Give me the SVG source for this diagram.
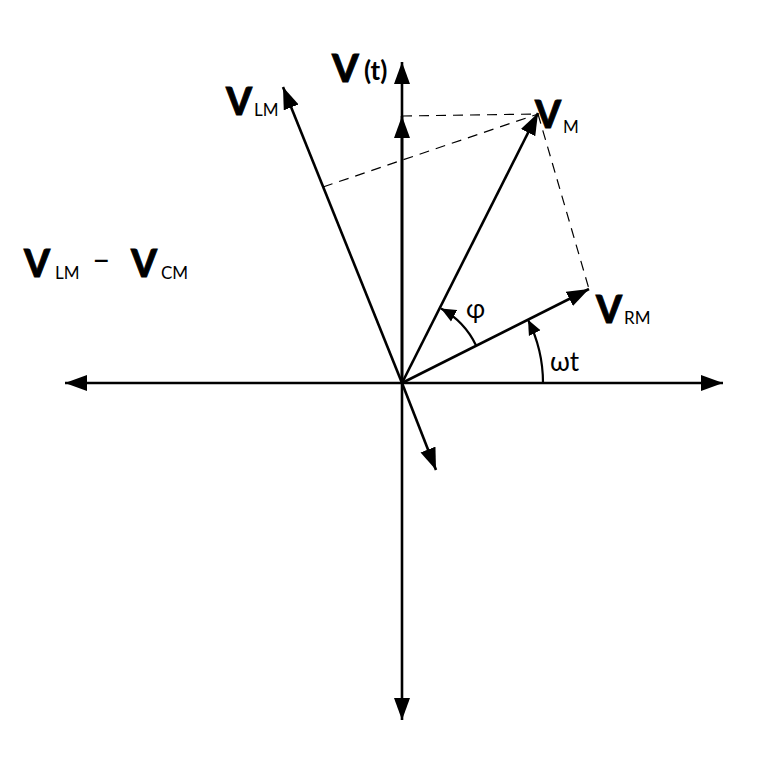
<svg xmlns="http://www.w3.org/2000/svg" width="768" height="768" viewBox="0 0 768 768">
<style>
.ax{stroke:#000;stroke-width:2.6;fill:none}
.dash{stroke:#000;stroke-width:1.2;fill:none;stroke-dasharray:10 7}
.arc{stroke:#000;stroke-width:2.2;fill:none}
.big{font-family:Lato,"Noto Sans",sans-serif;font-weight:900;fill:#000;stroke:#000;stroke-width:0.8}
.sub{font-family:Lato,"Noto Sans",sans-serif;font-weight:400;fill:#000}
.par{font-family:Lato,"Noto Sans",sans-serif;font-weight:700;fill:#000}
</style>
<defs>
<marker id="ah" markerUnits="userSpaceOnUse" markerWidth="24" markerHeight="18" refX="22" refY="8" orient="auto" viewBox="0 0 24 16">
<path d="M0,0 L22,8 L0,16 z" fill="#000"/>
</marker>
<marker id="ahs" markerUnits="userSpaceOnUse" markerWidth="16" markerHeight="14" refX="15" refY="6.5" orient="auto" viewBox="0 0 16 13">
<path d="M0,0 L15,6.5 L0,13 z" fill="#000"/>
</marker>
</defs>
<rect width="768" height="768" fill="#fff"/>
<g id="connectors">
<line class="dash" x1="402" y1="116" x2="538" y2="114"/>
<line class="dash" x1="323" y1="187" x2="538" y2="114"/>
<line class="dash" x1="538" y1="114" x2="589" y2="289"/>
<line class="ax" x1="402" y1="383" x2="65" y2="383" marker-end="url(#ah)"/>
<line class="ax" x1="402" y1="383" x2="723" y2="383" marker-end="url(#ah)"/>
<line class="ax" x1="402" y1="383" x2="402" y2="62" marker-end="url(#ah)"/>
<line class="ax" x1="402" y1="383" x2="402" y2="720" marker-end="url(#ah)"/>
<line class="ax" x1="402" y1="383" x2="402" y2="116" marker-end="url(#ah)"/>
<line class="ax" x1="402" y1="383" x2="283" y2="87" marker-end="url(#ah)"/>
<line class="ax" x1="402" y1="383" x2="538" y2="113" marker-end="url(#ah)"/>
<line class="ax" x1="402" y1="383" x2="589" y2="289" marker-end="url(#ah)"/>
<line class="ax" x1="402" y1="383" x2="436" y2="470" marker-end="url(#ah)"/>
<path class="arc" d="M476.2,345.7 A83,83 0 0 0 441,308.5" marker-end="url(#ahs)"/>
<path class="arc" d="M543,383 A141,141 0 0 0 528,319.7" marker-end="url(#ahs)"/>
</g>
<g id="label-vt">
<text class="big" x="332" y="82" font-size="38">V</text>
<text class="par" x="364" y="80" font-size="26">(t)</text>
</g>
<g id="label-vlm">
<text class="big" x="226" y="115" font-size="37">V</text>
<text class="sub" x="254" y="116" font-size="17">LM</text>
</g>
<g id="label-vm">
<text class="big" x="535" y="128" font-size="37">V</text>
<text class="sub" x="563" y="133" font-size="17">M</text>
</g>
<g id="label-vrm">
<text class="big" x="596" y="323" font-size="37">V</text>
<text class="sub" x="624" y="324" font-size="17">RM</text>
</g>
<g id="label-vlm-vcm">
<text class="big" x="24" y="277" font-size="37">V</text>
<text class="sub" x="55" y="279" font-size="17">LM</text>
<text class="sub" x="92" y="271" font-size="32">–</text>
<text class="big" x="131" y="277" font-size="37">V</text>
<text class="sub" x="161" y="279" font-size="17">CM</text>
</g>
<g id="label-phi">
<text class="sub" x="466" y="318" font-size="26">φ</text>
</g>
<g id="label-wt">
<text class="sub" x="550" y="371" font-size="26">ωt</text>
</g>
</svg>
